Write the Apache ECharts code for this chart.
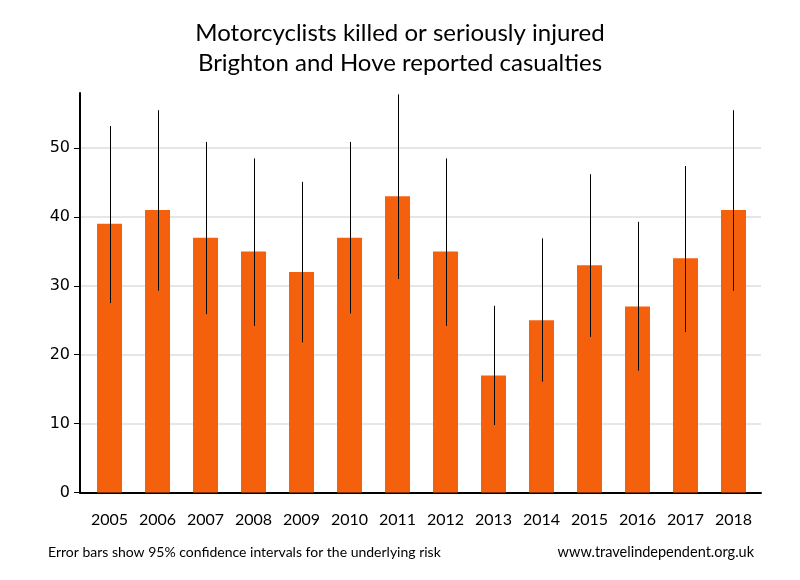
<!DOCTYPE html>
<html>
<head>
<meta charset="utf-8">
<script src="https://cdn.jsdelivr.net/npm/echarts@6/dist/echarts.min.js"></script>
<style>html,body{margin:0;padding:0;background:#fff;}#c{width:800px;height:580px;}</style>
</head>
<body>
<div id="c"></div>
<script>
const years = [2005,2006,2007,2008,2009,2010,2011,2012,2013,2014,2015,2016,2017,2018];
const casualties = [39,41,37,35,32,37,43,35,17,25,33,27,34,41];
const ciLow  = [27.5,29.3,25.9,24.2,21.8,26.0,31.0,24.2,9.8,16.1,22.6,17.7,23.3,29.3];
const ciHigh = [53.2,55.5,50.9,48.5,45.1,50.9,57.8,48.5,27.1,36.9,46.2,39.3,47.4,55.5];
const yTicks = [0,10,20,30,40,50];

const chart = echarts.init(document.getElementById('c'));
const font = 'Lato, "Open Sans", sans-serif';
chart.setOption({
  animation: false,
  backgroundColor: '#ffffff',
  title: {
    text: 'Motorcyclists killed or seriously injured\nBrighton and Hove reported casualties',
    left: 'center', top: 13,
    textStyle: { fontFamily: font, fontSize: 24, fontWeight: 'normal', color: '#000', lineHeight: 30 }
  },
  graphic: [
    { type: 'text', left: 48, top: 545, style: { text: 'Error bars show 95% confidence intervals for the underlying risk', font: '14px ' + font, fill: '#000' } },
    { type: 'text', right: 46, top: 545, style: { text: 'www.travelindependent.org.uk', font: '14.5px ' + font, fill: '#000' } }
  ],
  grid: { left: 80, right: 39, top: 93, bottom: 87.5 },
  xAxis: {
    type: 'value',
    min: 2004.385, max: 2018.573,
    axisLine: { show: true, onZero: false, lineStyle: { color: '#000', width: 2 } },
    axisTick: { show: false },
    splitLine: { show: false },
    axisLabel: {
      customValues: years,
      formatter: v => String(Math.round(v)),
      fontFamily: font, fontSize: 16, color: '#000', margin: 19
    }
  },
  yAxis: {
    type: 'value', min: 0, max: 58, interval: 10,
    axisLine: { show: true, lineStyle: { color: '#000', width: 2 } },
    axisTick: { show: true, length: 6, lineStyle: { color: '#000', width: 1 }, customValues: yTicks },
    axisLabel: { customValues: yTicks, fontFamily: 'DejaVu Sans, Verdana, sans-serif', fontSize: 16, color: '#000', margin: 10 },
    splitLine: { show: true, lineStyle: { color: '#e6e6e6', width: 2 } }
  },
  series: [
    {
      type: 'bar',
      data: years.map((y, i) => [y, casualties[i]]),
      barWidth: 25,
      itemStyle: { color: '#F5600D' },
      z: 2
    },
    {
      type: 'custom',
      data: years.map((y, i) => [y, ciLow[i], ciHigh[i]]),
      renderItem: function (params, api) {
        const lo = api.coord([api.value(0), api.value(1)]);
        const hi = api.coord([api.value(0), api.value(2)]);
        return {
          type: 'line',
          shape: { x1: Math.round(lo[0]) + 0.5, y1: lo[1], x2: Math.round(hi[0]) + 0.5, y2: hi[1] },
          style: { stroke: '#000', lineWidth: 1 }
        };
      },
      z: 3
    }
  ]
});
</script>
</body>
</html>
